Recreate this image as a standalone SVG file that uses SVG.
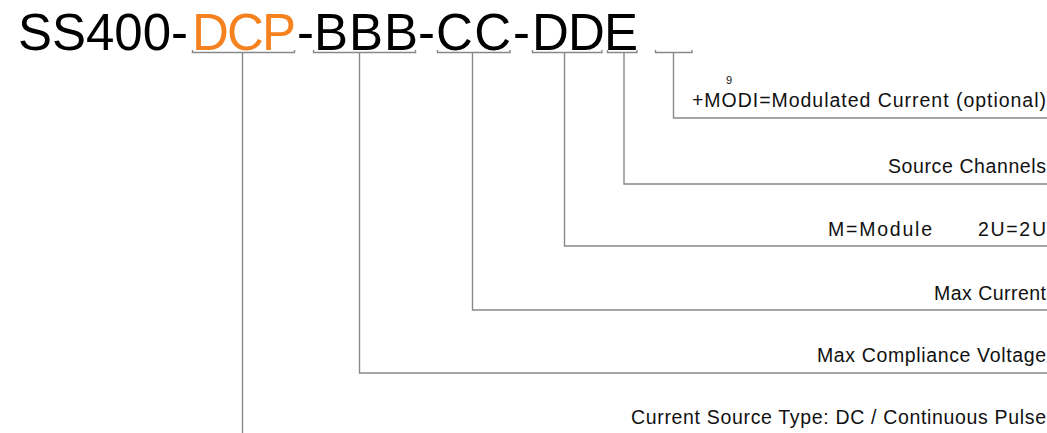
<svg xmlns="http://www.w3.org/2000/svg" width="1047" height="433" viewBox="0 0 1047 433">
<style>
.t{font-family:"Liberation Sans",Arial,sans-serif;font-size:51px;fill:#000}
.o{fill:#F5821F}
.l{font-family:"Liberation Sans",Arial,sans-serif;font-size:19.5px;fill:#111}
.s{font-family:"Liberation Sans",Arial,sans-serif;font-size:11px;fill:#111}
.c{fill:none;stroke:#888;stroke-width:1.4}
</style>
<rect width="1047" height="433" fill="#fff"/>
<g id="title">
<text class="t" x="18" y="50" textLength="170" lengthAdjust="spacing">SS400-</text>
<text class="t o" x="192" y="50" textLength="104" lengthAdjust="spacing">DCP</text>
<text class="t" x="297" y="50">-</text>
<text class="t" x="314" y="50" textLength="104" lengthAdjust="spacing">BBB</text>
<text class="t" x="418" y="50">-</text>
<text class="t" x="436" y="50" textLength="75" lengthAdjust="spacing">CC</text>
<text class="t" x="513" y="50">-</text>
<text class="t" x="532" y="50" textLength="106" lengthAdjust="spacing">DDE</text>
</g>
<g id="connectors">
<path class="c" d="M192.5,50 V52.5 H294.5 V50 M242.5,52.5 V433"/>
<path class="c" d="M313.5,50 V52.5 H415.5 V50 M359.5,52.5 V373 H1047"/>
<path class="c" d="M437.5,50 V52.5 H510 V50 M472.5,52.5 V310 H1047"/>
<path class="c" d="M532.5,50 V52.5 H602 V50 M564.5,52.5 V246 H1047"/>
<path class="c" d="M607.5,50 V52.5 H637 V50 M624,52.5 V184 H1047"/>
<path class="c" d="M655.5,50 V52.5 H692 V50 M673.5,52.5 V118 H1047"/>
</g>
<g id="label-modi">
<text class="s" x="726" y="84">9</text>
<text class="l" x="692" y="107" textLength="354" lengthAdjust="spacing">+MODI=Modulated Current (optional)</text>
</g>
<g id="label-channels"><text class="l" x="888" y="173" textLength="158" lengthAdjust="spacing">Source Channels</text></g>
<g id="label-module"><text class="l" x="828" y="236" textLength="104" lengthAdjust="spacing">M=Module</text><text class="l" x="978" y="236" textLength="68" lengthAdjust="spacing">2U=2U</text></g>
<g id="label-current"><text class="l" x="934" y="300" textLength="112" lengthAdjust="spacing">Max Current</text></g>
<g id="label-voltage"><text class="l" x="817" y="362" textLength="229" lengthAdjust="spacing">Max Compliance Voltage</text></g>
<g id="label-type"><text class="l" x="631" y="424" textLength="415" lengthAdjust="spacing">Current Source Type: DC / Continuous Pulse</text></g>
</svg>
